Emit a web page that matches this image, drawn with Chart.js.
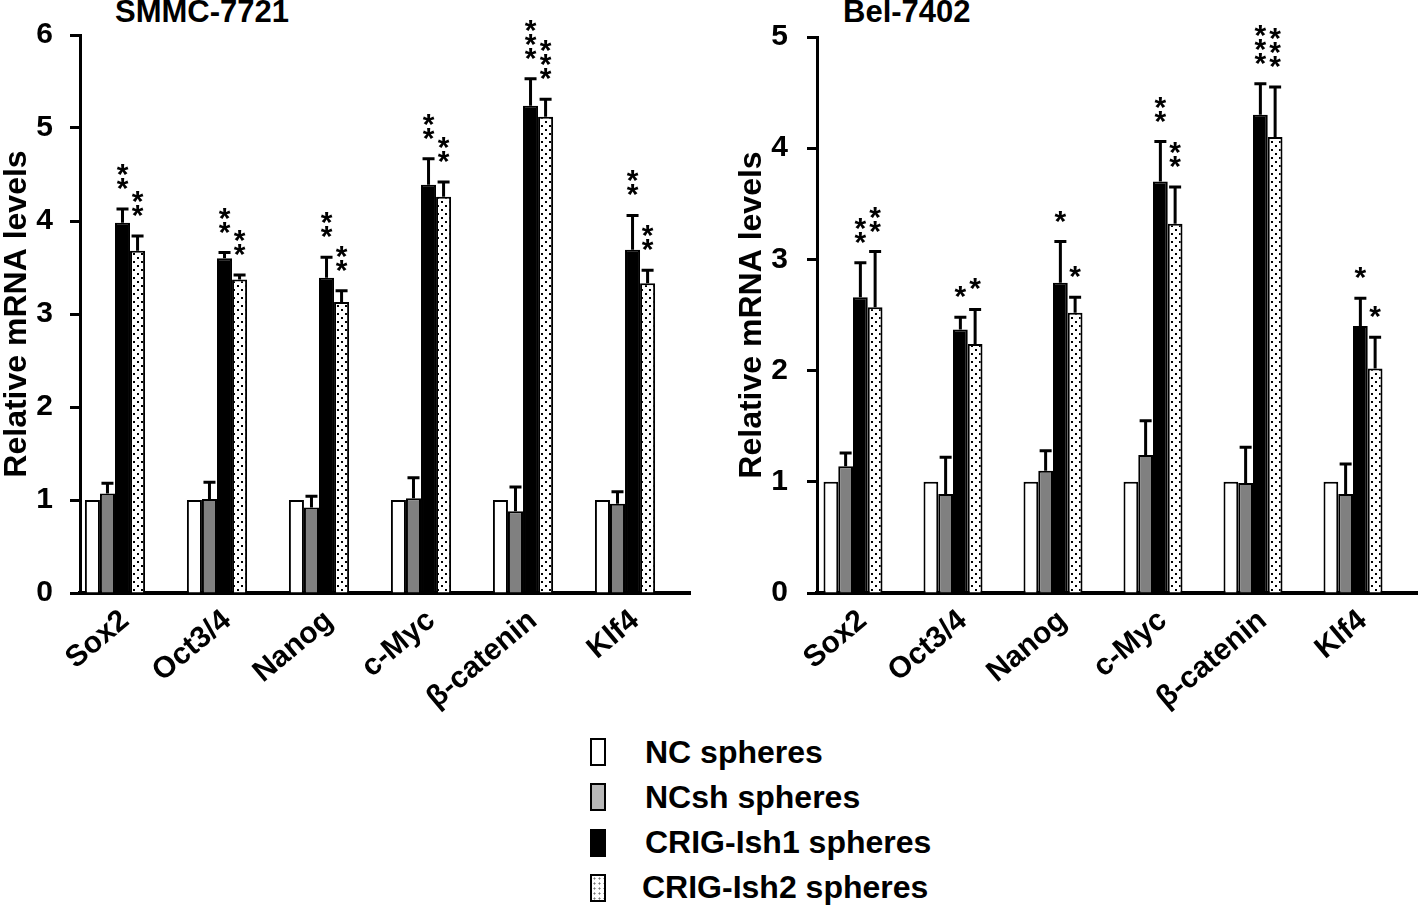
<!DOCTYPE html>
<html>
<head>
<meta charset="utf-8">
<script src="https://cdn.jsdelivr.net/npm/chart.js@4.4.1/dist/chart.umd.min.js"></script>
<style>
  body { margin: 0; background: #fff; width: 1418px; height: 907px; position: relative; overflow: hidden;
         font-family: "Liberation Sans", Arial, sans-serif; font-weight: bold; color: #000; }
  canvas { position: absolute; top: 0; }
  #leftChart { left: 0; }
  #rightChart { left: 730px; }
  .title { position: absolute; top: -4px; font-size: 31px; line-height: 31px; }
  .legend-row { position: absolute; left: 590px; height: 34px; display: flex; align-items: center; font-size: 32px; }
  .swatch { width: 16px; height: 28px; border: 2px solid #000; box-sizing: border-box; margin-right: 39px; }
</style>
</head>
<body>
<div class="title" style="left:115px">SMMC-7721</div>
<div class="title" style="left:843px">Bel-7402</div>
<canvas id="leftChart" width="705" height="720"></canvas>
<canvas id="rightChart" width="688" height="720"></canvas>
<div id="legend"></div>
<script>
const genes = ["Sox2", "Oct3/4", "Nanog", "c-Myc", "β-catenin", "Klf4"];
const groups = ["NC spheres", "NCsh spheres", "CRIG-Ish1 spheres", "CRIG-Ish2 spheres"];

// SMMC-7721
const smmcNC = [1, 1, 1, 1, 1, 1];
const smmcNCsh = [1.07, 1.01, 0.92, 1.02, 0.88, 0.96];
const smmcNCshErr = [0.11, 0.18, 0.12, 0.22, 0.26, 0.13];
const smmcIsh1 = [3.98, 3.60, 3.39, 4.39, 5.24, 3.69];
const smmcIsh1Err = [0.15, 0.06, 0.22, 0.28, 0.29, 0.37];
const smmcIsh2 = [3.68, 3.37, 3.13, 4.26, 5.12, 3.33];
const smmcIsh2Err = [0.16, 0.05, 0.12, 0.16, 0.19, 0.14];
const smmcStars1 = [2, 2, 2, 2, 3, 2];
const smmcStars2 = [2, 2, 2, 2, 3, 2];
const smmcTicks = [0, 1, 2, 3, 4, 5, 6];

// Bel-7402
const belNC = [1, 1, 1, 1, 1, 1];
const belNCsh = [1.14, 0.89, 1.10, 1.24, 0.99, 0.89];
const belNCshErr = [0.12, 0.33, 0.18, 0.31, 0.32, 0.27];
const belIsh1 = [2.66, 2.37, 2.79, 3.70, 4.30, 2.40];
const belIsh1Err = [0.31, 0.11, 0.37, 0.36, 0.28, 0.25];
const belIsh2 = [2.57, 2.24, 2.52, 3.32, 4.10, 2.02];
const belIsh2Err = [0.50, 0.31, 0.14, 0.33, 0.45, 0.28];
const belStars1 = [2, 1, 1, 2, 3, 1];
const belStars2 = [2, 1, 1, 2, 3, 1];
const belTicks = [0, 1, 2, 3, 4, 5];

const FONT = '"Liberation Sans", Arial, sans-serif';

function dotPattern() {
  const c = document.createElement("canvas");
  c.width = 8; c.height = 8;
  const g = c.getContext("2d");
  g.fillStyle = "#fff";
  g.fillRect(0, 0, 8, 8);
  g.fillStyle = "#000";
  g.fillRect(1, 1, 2, 2);
  g.fillRect(5, 5, 2, 2);
  return g.createPattern(c, "repeat");
}

const fills = ["#ffffff", "#808080", "#000000", dotPattern()];

// upper error bars plus significance stars above them
const errorBarPlugin = {
  id: "errorBars",
  afterDatasetsDraw(chart) {
    const ctx = chart.ctx;
    const yScale = chart.scales.y;
    chart.data.datasets.forEach((ds, di) => {
      const meta = chart.getDatasetMeta(di);
      meta.data.forEach((bar, i) => {
        const err = ds.errors ? ds.errors[i] : 0;
        const top = yScale.getPixelForValue(ds.data[i].y + err);
        ctx.save();
        if (err > 0) {
          ctx.strokeStyle = "#000";
          ctx.lineWidth = 3;
          ctx.beginPath();
          ctx.moveTo(bar.x, bar.y);
          ctx.lineTo(bar.x, top);
          ctx.moveTo(bar.x - 6, top);
          ctx.lineTo(bar.x + 6, top);
          ctx.stroke();
        }
        const n = ds.stars ? ds.stars[i] : 0;
        ctx.fillStyle = "#000";
        ctx.font = "bold 30px " + FONT;
        ctx.textAlign = "center";
        ctx.textBaseline = "alphabetic";
        for (let k = 0; k < n; k++) {
          ctx.fillText("*", bar.x, top - 11 - k * 14);
        }
        ctx.restore();
      });
    });
  }
};

function makeDatasets(series, errs, stars) {
  return series.map((vals, si) => ({
    label: groups[si],
    data: vals.map((v, i) => ({ x: i, y: v })),
    errors: errs[si],
    stars: stars[si],
    backgroundColor: fills[si],
    borderColor: "#000",
    borderWidth: 2,
    categoryPercentage: 0.59,
    barPercentage: 1.0
  }));
}

function drawPanel(id, series, errs, stars, yTicks, opt) {
  new Chart(document.getElementById(id), {
    type: "bar",
    data: { datasets: makeDatasets(series, errs, stars) },
    plugins: [errorBarPlugin],
    options: {
      responsive: false,
      animation: false,
      layout: { padding: { left: 0, top: 32, right: opt.padRight, bottom: 0 } },
      plugins: { legend: { display: false }, tooltip: { enabled: false } },
      scales: {
        x: {
          type: "linear",
          offset: false,
          bounds: "data",
          min: opt.xMin,
          max: opt.xMax,
          grid: { display: false, offset: false },
          border: { display: true, color: "#000", width: 4 },
          afterBuildTicks: axis => { axis.ticks = genes.map((g, i) => ({ value: i + 0.1 })); },
          afterFit: scale => { scale.height = 127; },
          ticks: {
            autoSkip: false,
            minRotation: 40,
            maxRotation: 40,
            padding: 2,
            color: "#000",
            font: { family: FONT, size: 30, weight: "bold" },
            callback: (v, i) => genes[i]
          }
        },
        y: {
          min: 0,
          max: yTicks[yTicks.length - 1],
          afterBuildTicks: axis => { axis.ticks = yTicks.map(v => ({ value: v })); },
          afterFit: scale => { scale.width = opt.yWidth; },
          grid: { display: true, drawOnChartArea: false, drawTicks: true, tickLength: 10, tickWidth: 3, tickColor: "#000" },
          border: { display: true, color: "#000", width: 3 },
          ticks: {
            padding: opt.tickPad,
            color: "#000",
            font: { family: FONT, size: 30, weight: "bold" }
          },
          title: {
            display: true,
            text: "Relative mRNA levels",
            color: "#000",
            padding: { top: opt.titlePad, bottom: 0 },
            font: { family: FONT, size: 32, weight: "bold", lineHeight: 1 }
          }
        }
      }
    }
  });
}

drawPanel("leftChart",
  [smmcNC, smmcNCsh, smmcIsh1, smmcIsh2],
  [null, smmcNCshErr, smmcIsh1Err, smmcIsh2Err],
  [null, null, smmcStars1, smmcStars2],
  smmcTicks,
  { xMin: -0.343, xMax: 5.637, padRight: 15, yWidth: 80, tickPad: 17, titlePad: 1 });

drawPanel("rightChart",
  [belNC, belNCsh, belIsh1, belIsh2],
  [null, belNCshErr, belIsh1Err, belIsh2Err],
  [null, null, belStars1, belStars2],
  belTicks,
  { xMin: -0.36, xMax: 5.65, padRight: 0, yWidth: 87, tickPad: 19, titlePad: 6 });

// legend
const swatchStyles = [
  "background:#fff",
  "background:#b8b8b8",
  "background:#000",
  "background:#fff radial-gradient(circle, #777 0.8px, transparent 1.3px) 0 0 / 5px 5px"
];
const legend = document.getElementById("legend");
groups.forEach((g, i) => {
  const row = document.createElement("div");
  row.className = "legend-row";
  row.style.top = (735 + i * 45.3) + "px";
  row.innerHTML = `<div class="swatch" style="${swatchStyles[i]}"></div><span style="${i === 3 ? 'margin-left:-3px' : ''}">${g}</span>`;
  legend.appendChild(row);
});
</script>
</body>
</html>
